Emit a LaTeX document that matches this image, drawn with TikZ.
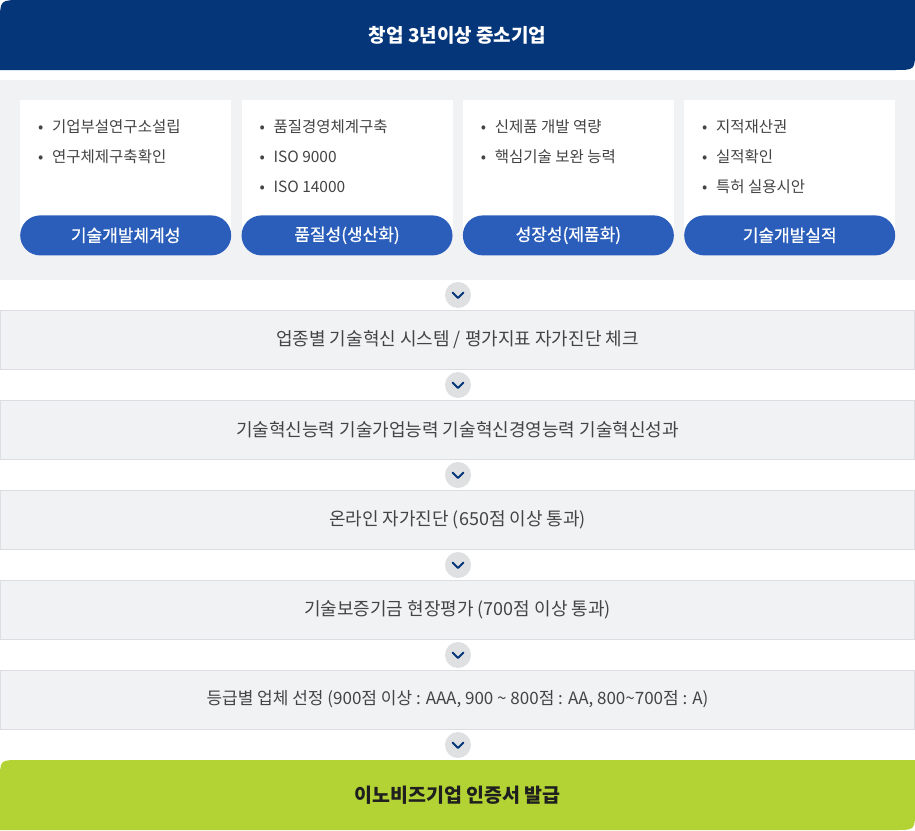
\documentclass[tikz,border=0pt]{standalone}
\usepackage{fontspec}
\setmainfont{Noto Sans CJK KR}
\newfontfamily\medfont[FakeBold=0.8]{Noto Sans CJK KR}
\definecolor{navy}{HTML}{05367A}
\definecolor{pillblue}{HTML}{2A5EBA}
\definecolor{lime}{HTML}{B3D334}
\definecolor{panelgray}{HTML}{F1F2F4}
\definecolor{linegray}{HTML}{DCDEE1}
\definecolor{circgray}{HTML}{DFE0E2}
\definecolor{textgray}{HTML}{444444}
\tikzset{
  card/.style={fill=white, anchor=north west, minimum width=211pt, minimum height=135pt, inner sep=0pt},
  pill/.style={fill=pillblue, rounded corners=20pt, minimum width=211pt, minimum height=40pt, inner sep=0pt, text=white, font=\fontsize{17}{17}\medfont},
  item/.style={anchor=west, inner sep=0pt, text=textgray, font=\fontsize{15.5}{15.5}\selectfont},
  stepbox/.style={fill=panelgray, draw=linegray, minimum width=914pt, minimum height=59pt, text=textgray, font=\fontsize{18}{18}\selectfont},
  badge/.style={circle, fill=circgray, minimum size=26pt, inner sep=0pt},
  chevron/.style={draw=navy, line width=2pt, line cap=round, line join=round}
}
\begin{document}
\begin{tikzpicture}[x=1pt,y=-1pt]
\useasboundingbox (0,0) rectangle (915,830);
\fill[white] (0,0) rectangle (915,830);
% top banner
\fill[navy] (0,70) -- (0,22) .. controls (0,0) .. (22,0) -- (915,0) -- (915,50) .. controls (915,70) .. (895,70) -- cycle;
\node[text=white, font=\fontsize{19}{19}\selectfont\bfseries] (title) at (457.5,35) {창업 3년이상 중소기업};
% panel with the four cards
\fill[panelgray] (0,80) rectangle (915,280);
\foreach \i/\lbl in {1/기술개발체계성,2/품질성(생산화),3/성장성(제품화),4/기술개발실적}
{
\node[card] (card\i) at (20+221.33*\i-221.33,100) {};
\node[pill] (btn\i) at (card\i.south) {\lbl};
}
\foreach \i/\j/\t in {1/1/기업부설연구소설립,1/2/연구체제구축확인,
  2/1/품질경영체계구축,2/2/ISO 9000,2/3/ISO 14000,
  3/1/신제품 개발 역량,3/2/핵심기술 보완 능력,
  4/1/지적재산권,4/2/실적확인,4/3/특허 실용시안}
\node[item] (item\i\j) at (38+221.33*\i-221.33,97+30*\j) {\makebox[14pt][l]{•}\t};
% steps
\foreach \k/\t in {1/{업종별 기술혁신 시스템 / 평가지표 자가진단 체크},
  2/기술혁신능력 기술가업능력 기술혁신경영능력 기술혁신성과,
  3/온라인 자가진단 (650점 이상 통과),
  4/기술보증기금 현장평가 (700점 이상 통과),
  5/{\fontsize{17}{17}\selectfont 등급별 업체 선정 (900점 이상 : AAA, 900 \textasciitilde{} 800점 : AA, 800\textasciitilde 700점 : A)}}
\node[stepbox] (s\k) at (457.5,249.5+90*\k) {\t};
% last box
\fill[lime] (0,830) -- (0,780) .. controls (0,760) .. (20,760) -- (915,760) -- (915,810) .. controls (915,830) .. (895,830) -- cycle;
\node[text=black!88, font=\fontsize{19.5}{19.5}\selectfont\bfseries] (final) at (457.5,795) {이노비즈기업 인증서 발급};
% arrows between the steps
\foreach \k in {1,...,6}
{
\node[badge] (c\k) at (458,205+90*\k) {};
\draw[chevron] ([shift={(-5.5pt,2.5pt)}]c\k.center) -- ([shift={(0pt,-3pt)}]c\k.center) -- ([shift={(5.5pt,2.5pt)}]c\k.center);
}
\end{tikzpicture}
\end{document}
